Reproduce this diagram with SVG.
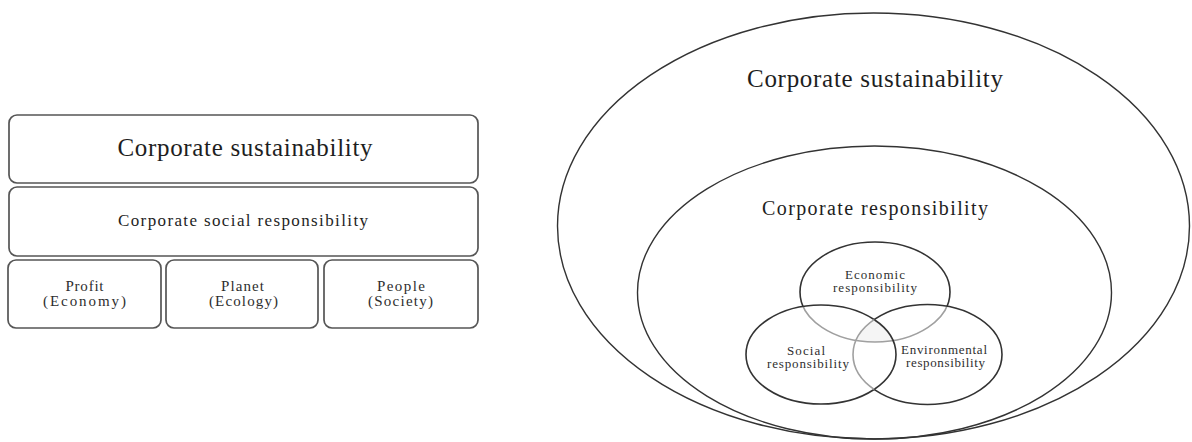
<svg xmlns="http://www.w3.org/2000/svg" width="1192" height="442" viewBox="0 0 1192 442">
  <style>
    .box { fill: #ffffff; stroke: #555555; stroke-width: 1.7; }
    .ring { fill: none; stroke: #333333; stroke-width: 1.4; }
    .venn { fill: none; stroke: #333333; stroke-width: 1.6; }
    .venn-soft { fill: none; stroke: #a0a0a0; stroke-width: 1.6; }
    .t { font-family: "Liberation Serif", "Times New Roman", serif; fill: #1e1e1e; text-anchor: middle; }
    .big { font-size: 25px; }
    .mid { font-size: 17px; }
    .small { font-size: 15px; fill: #2e2e2e; }
    .venn-t { font-size: 13px; fill: #2e2e2e; }
  </style>
  <defs>
    <ellipse id="e-econ" cx="875" cy="292" rx="75" ry="50"/>
    <ellipse id="e-soc" cx="821" cy="354.5" rx="75" ry="49.5"/>
    <ellipse id="e-env" cx="927.5" cy="354.5" rx="74.5" ry="50"/>
    <clipPath id="clip-soc"><use href="#e-soc"/></clipPath>
    <clipPath id="clip-env"><use href="#e-env"/></clipPath>
    <clipPath id="clip-soc-env"><use href="#e-soc"/><use href="#e-env"/></clipPath>
    <mask id="mask-no-soc-env" maskUnits="userSpaceOnUse" x="0" y="0" width="1192" height="442">
      <rect x="0" y="0" width="1192" height="442" fill="#fff"/>
      <use href="#e-soc" fill="#000"/>
      <use href="#e-env" fill="#000"/>
    </mask>
    <mask id="mask-no-soc" maskUnits="userSpaceOnUse" x="0" y="0" width="1192" height="442">
      <rect x="0" y="0" width="1192" height="442" fill="#fff"/>
      <use href="#e-soc" fill="#000"/>
    </mask>
  </defs>

  <!-- Left: stacked model -->
  <g id="box-corporate-sustainability">
    <rect class="box" x="9" y="115" width="469" height="68" rx="8"/>
    <text class="t big" x="245" y="156" textLength="255" lengthAdjust="spacing">Corporate sustainability</text>
  </g>
  <g id="box-csr">
    <rect class="box" x="9" y="187" width="469" height="69" rx="8"/>
    <text class="t mid" x="243" y="226" textLength="250" lengthAdjust="spacing">Corporate social responsibility</text>
  </g>
  <g id="box-profit">
    <rect class="box" x="8" y="260" width="153" height="68" rx="8"/>
    <text class="t small" x="84.5" y="291" textLength="38" lengthAdjust="spacing">Profit</text>
    <text class="t small" x="84.5" y="306" textLength="83" lengthAdjust="spacing">(Economy)</text>
  </g>
  <g id="box-planet">
    <rect class="box" x="166" y="260" width="152" height="68" rx="8"/>
    <text class="t small" x="242.5" y="291" textLength="43" lengthAdjust="spacing">Planet</text>
    <text class="t small" x="243.5" y="306" textLength="69" lengthAdjust="spacing">(Ecology)</text>
  </g>
  <g id="box-people">
    <rect class="box" x="324" y="260" width="154" height="68" rx="8"/>
    <text class="t small" x="401" y="291" textLength="48" lengthAdjust="spacing">People</text>
    <text class="t small" x="400.5" y="306" textLength="65" lengthAdjust="spacing">(Society)</text>
  </g>

  <!-- Right: nested model -->
  <g id="ring-corporate-sustainability">
    <ellipse class="ring" cx="873.5" cy="226" rx="316" ry="213"/>
    <text class="t big" x="875" y="87" textLength="256" lengthAdjust="spacing">Corporate sustainability</text>
  </g>
  <g id="ring-corporate-responsibility">
    <ellipse class="ring" cx="874.5" cy="292.5" rx="237" ry="146.5"/>
    <text class="t" style="font-size:20px" x="875" y="215" textLength="226" lengthAdjust="spacing">Corporate responsibility</text>
  </g>

  <!-- shared centre of the three responsibilities -->
  <g id="venn-overlap">
    <g clip-path="url(#clip-soc)">
      <g clip-path="url(#clip-env)">
        <use href="#e-econ" fill="#f5f5f5"/>
      </g>
    </g>
  </g>
  <g id="circle-economic">
    <use href="#e-econ" class="venn" mask="url(#mask-no-soc-env)"/>
    <use href="#e-econ" class="venn-soft" clip-path="url(#clip-soc-env)"/>
    <text class="t venn-t" x="875" y="279" textLength="60" lengthAdjust="spacing">Economic</text>
    <text class="t venn-t" x="875" y="292" textLength="84" lengthAdjust="spacing">responsibility</text>
  </g>
  <g id="circle-social">
    <use href="#e-soc" class="venn"/>
    <text class="t venn-t" x="806" y="355" textLength="38" lengthAdjust="spacing">Social</text>
    <text class="t venn-t" x="808" y="368" textLength="82" lengthAdjust="spacing">responsibility</text>
  </g>
  <g id="circle-environmental">
    <use href="#e-env" class="venn" mask="url(#mask-no-soc)"/>
    <use href="#e-env" class="venn-soft" clip-path="url(#clip-soc)"/>
    <text class="t venn-t" x="944" y="354" textLength="86" lengthAdjust="spacing">Environmental</text>
    <text class="t venn-t" x="945.5" y="367" textLength="79" lengthAdjust="spacing">responsibility</text>
  </g>

  <g id="connectors"/>
</svg>
